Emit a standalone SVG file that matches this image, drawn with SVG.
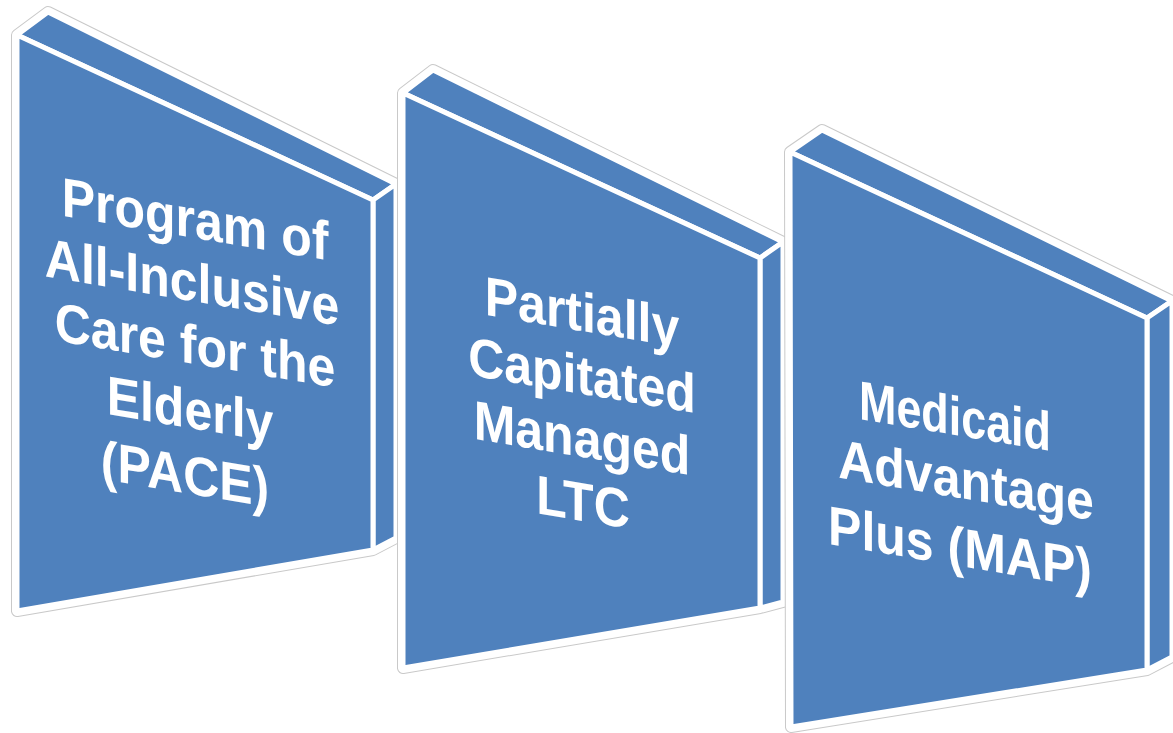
<svg xmlns="http://www.w3.org/2000/svg" width="1173" height="733" viewBox="0 0 1173 733">
<style>
.sil{fill:#ffffff;stroke:#c9c9c9;stroke-width:12;stroke-linejoin:round}
.silw{fill:#ffffff;stroke:#ffffff;stroke-width:10;stroke-linejoin:round}
.face{fill:#4f81bd;stroke:#ffffff;stroke-width:5;stroke-linejoin:miter}
.lbl{fill:#ffffff;font-family:"Liberation Sans",Arial,sans-serif;font-weight:bold;font-size:50px;text-anchor:middle}
</style>
<rect width="1173" height="733" fill="#ffffff"/>
<g id="node-pace">
<polygon class="sil" points="17,35 48,12 396,184 396,538 373,550 17,611"/>
<polygon class="silw" points="17,35 48,12 396,184 396,538 373,550 17,611"/>
<polygon class="face" points="17,35 48,12 396,184 373,200"/>
<polygon class="face" points="373,200 396,184 396,538 373,550"/>
<polygon class="face" points="17,35 373,200 373,550 17,611"/>
<g class="lbl">
<text transform="translate(195,238) skewY(9.5) scale(1,1.1)">Program of</text>
<text transform="translate(192,301) skewY(9.5) scale(1,1.1)">All-Inclusive</text>
<text transform="translate(195,364) skewY(9.5) scale(1,1.1)">Care for the</text>
<text transform="translate(190,428) skewY(9.5) scale(1,1.1)">Elderly</text>
<text transform="translate(185,493) skewY(9.5) scale(1,1.1)">(PACE)</text>
</g>
</g>
<g id="node-ltc">
<polygon class="sil" points="403,93 433,70 783,242 783,602 760,608 403,668"/>
<polygon class="silw" points="403,93 433,70 783,242 783,602 760,608 403,668"/>
<polygon class="face" points="403,93 433,70 783,242 760,258"/>
<polygon class="face" points="760,258 783,242 783,602 760,608"/>
<polygon class="face" points="403,93 760,258 760,608 403,668"/>
<g class="lbl">
<text transform="translate(582,331) skewY(9.5) scale(1,1.1)">Partially</text>
<text transform="translate(582,394) skewY(9.5) scale(1,1.1)">Capitated</text>
<text transform="translate(582,457) skewY(9.5) scale(1,1.1)">Managed</text>
<text transform="translate(583,521) skewY(9.5) scale(1,1.1)">LTC</text>
</g>
</g>
<g id="node-map">
<polygon class="sil" points="790,152 822,130 1172,301 1172,657 1147,670 791,727"/>
<polygon class="silw" points="790,152 822,130 1172,301 1172,657 1147,670 791,727"/>
<polygon class="face" points="790,152 822,130 1172,301 1147,318"/>
<polygon class="face" points="1147,318 1172,301 1172,657 1147,670"/>
<polygon class="face" points="790,152 1147,318 1147,670 791,727"/>
<g class="lbl">
<text transform="translate(955,435) skewY(9.5) scale(1,1.1)" textLength="192" lengthAdjust="spacingAndGlyphs">Medicaid</text>
<text transform="translate(966,499) skewY(9.5) scale(1,1.1)">Advantage</text>
<text transform="translate(960,566) skewY(9.5) scale(1,1.1)">Plus (MAP)</text>
</g>
</g>
<g id="connectors"></g>
</svg>
